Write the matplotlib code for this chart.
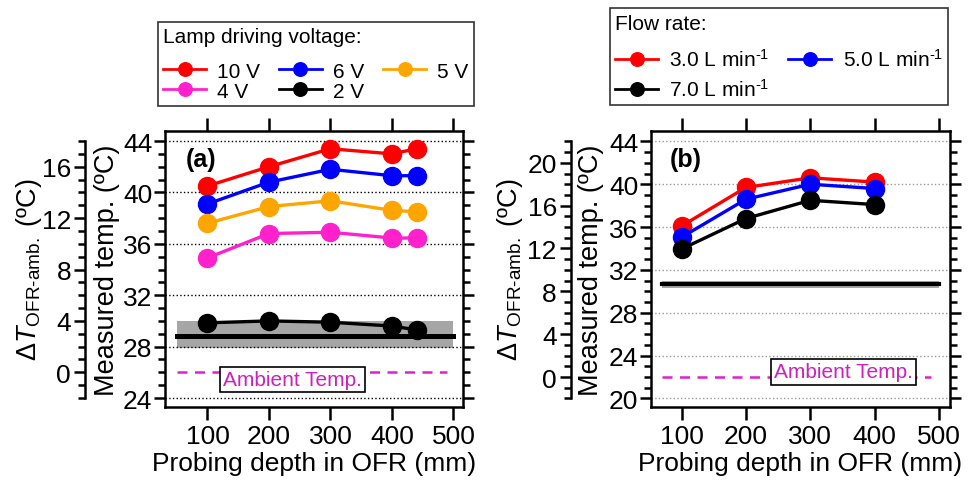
import numpy as np
import matplotlib
matplotlib.use("Agg")
from matplotlib import pyplot as plt
from matplotlib.ticker import MultipleLocator

plt.rcParams['font.family'] = ['Liberation Sans', 'DejaVu Sans']
plt.rcParams['mathtext.fontset'] = 'custom'
plt.rcParams['mathtext.rm'] = 'Liberation Sans'
plt.rcParams['mathtext.it'] = 'Liberation Sans:italic'
plt.rcParams['mathtext.bf'] = 'Liberation Sans:bold'

# panel (a): lamp driving voltage
depth_a = [100, 200, 300, 400, 440]
temp_10v = [40.5, 42.0, 43.4, 43.0, 43.4]
temp_6v = [39.1, 40.8, 41.8, 41.3, 41.3]
temp_5v = [37.6, 38.9, 39.35, 38.6, 38.5]
temp_4v = [34.9, 36.8, 36.9, 36.45, 36.45]
temp_2v = [29.85, 30.0, 29.9, 29.6, 29.3]
labels_a = ['10 V', '6 V', '5 V', '4 V', '2 V']
ambient_a = 26.0
ref_a = 28.85
ref_band_a = [27.9, 30.0]

# panel (b): flow rate
depth_b = [100, 200, 300, 400]
temp_3lpm = [36.1, 39.7, 40.6, 40.2]
temp_5lpm = [35.05, 38.6, 40.0, 39.6]
temp_7lpm = [33.95, 36.8, 38.5, 38.1]
labels_b = [r'3.0 L min$^{\text{-1}}$', r'5.0 L min$^{\text{-1}}$', r'7.0 L min$^{\text{-1}}$']
ambient_b = 22.0
ref_b = 30.65
ref_band_b = [30.3, 31.0]

W, H = 969, 481
fig = plt.figure(figsize=(W / 100, H / 100), dpi=100)

TICK_FS = 19
LABEL_FS = 19.5
LEG_FS = 15
LW_SPINE = 1.8
PX = 72 / 100  # points per pixel


def px_axes(x0, x1, y0, y1):
    return fig.add_axes([x0 / W, 1 - y1 / H, (x1 - x0) / W, (y1 - y0) / H])


def setup_panel(ax, ambient, ylim, xlim, yticks, dticks, dbounds, grid_color,
                inner_lab_x, outer_lab_x):
    ax.set_xlim(*xlim)
    ax.set_ylim(*ylim)
    ax.set_xticks([100, 200, 300, 400, 500])
    ax.set_yticks(yticks)
    ax.yaxis.set_minor_locator(MultipleLocator(1))
    ax.grid(axis='y', which='major', linestyle=':', color=grid_color, lw=1.0, zorder=0)
    for s in ax.spines.values():
        s.set_linewidth(LW_SPINE)
    ax.set_xlabel('Probing depth in OFR (mm)', fontsize=TICK_FS, labelpad=2)
    ax.set_ylabel('Measured temp. (ºC)', fontsize=LABEL_FS, va='center')
    ax.yaxis.set_label_coords(inner_lab_x, 0.5)

    # outer axis: temperature rise above ambient
    ax2 = ax.twinx()
    ax2.set_ylim(ylim[0] - ambient, ylim[1] - ambient)
    ax2.yaxis.set_ticks_position('left')
    ax2.yaxis.set_label_position('left')
    ax2.spines['left'].set_position(('outward', 80 * PX))
    ax2.spines['left'].set_bounds(*dbounds)
    ax2.spines['left'].set_linewidth(LW_SPINE)
    for s in ['right', 'top', 'bottom']:
        ax2.spines[s].set_visible(False)
    ax2.set_yticks(dticks)
    ax2.yaxis.set_minor_locator(MultipleLocator(1))
    ax2.tick_params(axis='y', which='major', length=8, width=LW_SPINE,
                    labelsize=TICK_FS, pad=2)
    ax2.tick_params(axis='y', which='minor', length=5, width=LW_SPINE)
    ax2.set_ylabel(r'$\mathit{\Delta T}_{\mathrm{OFR\text{-}amb.}}$ (ºC)',
                   fontsize=LABEL_FS, va='center')
    ax2.yaxis.set_label_coords(outer_lab_x, 0.5)

    ax.tick_params(axis='y', which='both', left=True, right=True, direction='out')
    ax.tick_params(axis='y', which='major', length=8, width=LW_SPINE,
                   labelsize=TICK_FS, pad=1)
    ax.tick_params(axis='y', which='minor', length=5, width=LW_SPINE)
    ax.tick_params(axis='x', which='major', top=True, bottom=True, direction='out',
                   length=9.5, width=LW_SPINE, labelsize=TICK_FS, pad=3)
    return ax2


def make_legend(handles, labels, order, anchor, ncol, title, rowsp, titlesep):
    leg = fig.legend([handles[i] for i in order], [labels[i] for i in order],
                     loc='upper left', bbox_to_anchor=(anchor[0] / W, 1 - anchor[1] / H),
                     ncol=ncol, fontsize=LEG_FS, title=title, title_fontsize=LEG_FS,
                     alignment='left', frameon=True, fancybox=False, edgecolor='k',
                     borderaxespad=0, borderpad=0.25, labelspacing=rowsp, handlelength=2.05,
                     handletextpad=0.55, columnspacing=0.9, markerscale=0.75)
    leg.get_frame().set_linewidth(1.2)
    leg._legend_box.sep = titlesep * LEG_FS  # more room below the title
    for ln in leg.get_lines():
        ln.set_linewidth(2.0)
    return leg


marker_kw = dict(marker='o', markersize=13, lw=2.4)

# ---- panel (a)
ax_a = px_axes(165, 463.3, 132, 408)
ax_a.fill_between([50, 500], ref_band_a[0], ref_band_a[1], color='#a6a6a6', lw=0, zorder=1)
ax_a.plot([50, 500], [ref_a, ref_a], color='k', lw=3.6, zorder=1.5)
ax_a.plot([50, 490], [ambient_a, ambient_a], color='#dd22cc', lw=1.8, ls=(0, (4, 3)), zorder=1.5)
colors_a = ['#ff0000', '#0000ff', '#ffa500', '#ff22cc', '#000000']
series_a = [temp_10v, temp_6v, temp_5v, temp_4v, temp_2v]
handles_a = []
for vals, c, lab in zip(series_a, colors_a, labels_a):
    h, = ax_a.plot(depth_a, vals, color=c, mec=c, mfc=c, label=lab, zorder=3, **marker_kw)
    handles_a.append(h)
ax_a.text(238, 25.45, 'Ambient Temp.', color='#cc22bb', fontsize=15, ha='center', va='center',
          bbox=dict(boxstyle='square,pad=0.15', fc='white', ec='k', lw=1.2), zorder=4)
ax_a.text(64, 42.6, '(a)', fontsize=18, fontweight='bold', ha='left', va='center')
setup_panel(ax_a, ambient_a, (23.3, 44.78), (31, 516), range(24, 45, 4), range(0, 17, 4),
            (-2, 18), 'k', -0.195, -0.455)
make_legend(handles_a, labels_a, [0, 3, 1, 4, 2], (158, 22.7), 3, 'Lamp driving voltage:',
            0.05, 0.75)

# ---- panel (b)
ax_b = px_axes(650.7, 950, 132, 408)
ax_b.fill_between([70, 500], ref_band_b[0], ref_band_b[1], color='#a6a6a6', lw=0, zorder=1)
ax_b.plot([70, 500], [ref_b, ref_b], color='k', lw=3.0, zorder=1.5)
ax_b.plot([70, 487], [ambient_b, ambient_b], color='#dd22cc', lw=1.8, ls=(0, (4, 3)), zorder=1.5)
colors_b = ['#ff0000', '#0000ff', '#000000']
series_b = [temp_3lpm, temp_5lpm, temp_7lpm]
handles_b = []
for vals, c, lab in zip(series_b, colors_b, labels_b):
    h, = ax_b.plot(depth_b, vals, color=c, mec=c, mfc=c, label=lab, zorder=3, **marker_kw)
    handles_b.append(h)
ax_b.text(352, 22.47, 'Ambient Temp.', color='#cc22bb', fontsize=15, ha='center', va='center',
          bbox=dict(boxstyle='square,pad=0.15', fc='white', ec='k', lw=1.2), zorder=4)
ax_b.text(82, 42.4, '(b)', fontsize=18, fontweight='bold', ha='left', va='center')
setup_panel(ax_b, ambient_b, (19.2, 44.97), (52, 517), range(20, 45, 4), range(0, 21, 4),
            (-2, 22), '#999999', -0.2, -0.47)
make_legend(handles_b, labels_b, [0, 2, 1], (610, 9.3), 2, 'Flow rate:', 0.38, 0.75)

fig.savefig('out.png', dpi=100)
